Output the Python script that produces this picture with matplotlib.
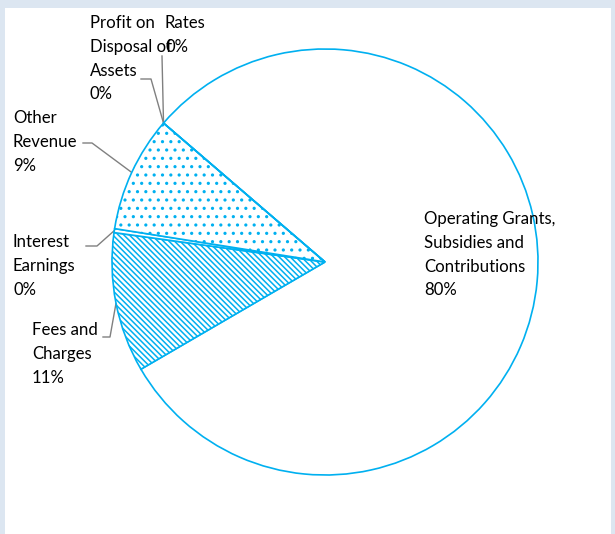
import numpy as np
import matplotlib
matplotlib.use("Agg")
import matplotlib.pyplot as plt
from matplotlib.patches import Rectangle

# ==== DATOS ====
categorias = ["Operating Grants,\nSubsidies and\nContributions",
              "Fees and\nCharges",
              "Interest\nEarnings",
              "Other\nRevenue",
              "Profit on\nDisposal of\nAssets",
              "Rates"]
valores = [80.3, 10.6, 0.3, 8.8, 0.0, 0.0]
tramas = [None, "\\" * 6, None, "..", None, None]

azul = "#00B0F0"
gris = "#808080"
plt.rcParams["font.family"] = ["Lato", "DejaVu Sans"]
plt.rcParams["hatch.color"] = azul
plt.rcParams["hatch.linewidth"] = 1.1

W, H = 615, 534
fig = plt.figure(figsize=(W / 100, H / 100), dpi=100, facecolor="#dce6f1")
fig.patches.append(Rectangle((5 / W, 0), 606 / W, 1 - 8 / H, transform=fig.transFigure,
                             facecolor="white", edgecolor="none", zorder=-1))

# centro y radio del pastel en pixeles
cx, cy, r = 325, 262, 213
ax = fig.add_axes([(cx - r) / W, (H - cy - r) / H, 2 * r / W, 2 * r / H])
ax.set_zorder(1)

wedges, _ = ax.pie(valores, startangle=139.3, counterclock=False, radius=1,
                   colors=["white"] * len(valores),
                   wedgeprops=dict(edgecolor=azul, linewidth=1.2))
for w, t in zip(wedges, tramas):
    if t:
        w.set_hatch(t)
# pie() fija sus propios limites; se reajustan al radio
ax.set_xlim(-1, 1)
ax.set_ylim(-1, 1)
ax.axis("off")


def px(x, y):
    # pixel (origen arriba-izquierda) -> coordenadas de datos del eje
    return (x - cx) / r, (cy - y) / r


def ancla(w):
    ang = np.deg2rad((w.theta1 + w.theta2) / 2)
    return np.cos(ang), np.sin(ang)


pct = [f"{round(v)}%" for v in valores]

# etiquetas (posicion en pixeles: izquierda, borde superior)
pos_texto = [(424, 211), (32, 322), (13, 234), (13, 110), (90, 15), (165, 15)]
for cat, p, (x, y) in zip(categorias, pct, pos_texto):
    fig.text(x / W, 1 - y / H, f"{cat}\n{p}", ha="left", va="top",
             fontsize=12.1, linespacing=1.6, color="black", zorder=3)

# lineas guia: codo en pixeles -> punto medio del sector
codos = {1: [(103, 337), (110, 337)],
         2: [(86, 246), (97, 246)],
         3: [(83, 143), (92, 143)],
         4: [(141, 79), (151, 79)],
         5: [(162, 56)]}
for i, pts in codos.items():
    ax_pts = [px(*p) for p in pts] + [ancla(wedges[i])]
    xs, ys = zip(*ax_pts)
    ax.plot(xs, ys, color=gris, lw=1.0, clip_on=False, zorder=0.5)

plt.savefig("out.png", dpi=100, facecolor=fig.get_facecolor())
